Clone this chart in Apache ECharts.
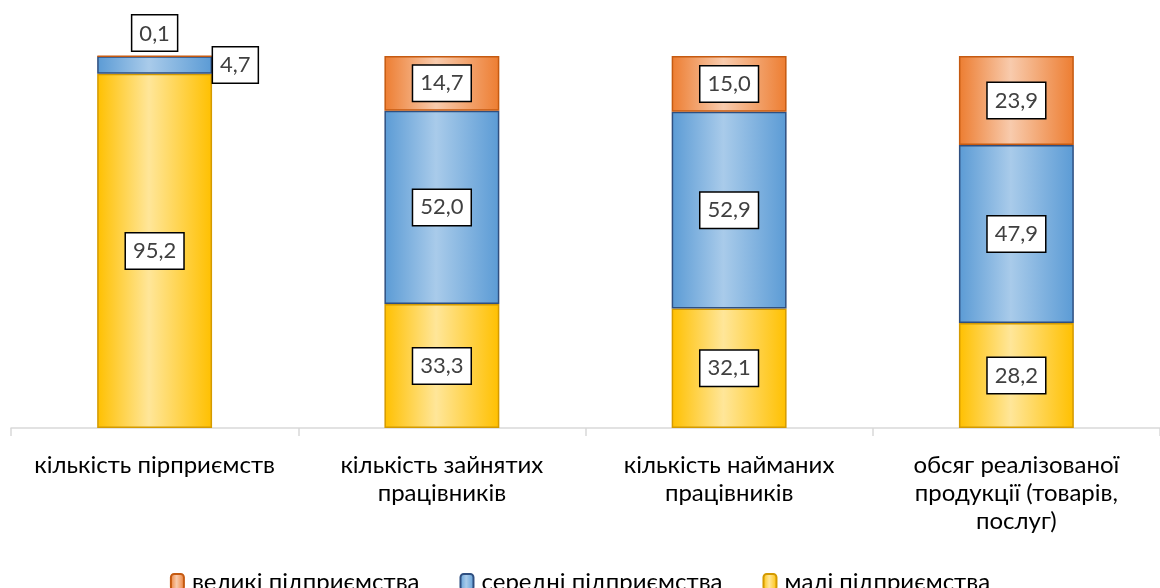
<!DOCTYPE html>
<html>
<head>
<meta charset="utf-8">
<script src="https://cdn.jsdelivr.net/npm/echarts@6/dist/echarts.min.js"></script>
<style>
  html, body { margin: 0; padding: 0; background: #fff; }
  #chart { width: 1160px; height: 588px; }
</style>
</head>
<body>
<div id="chart"></div>
<script>
// дані діаграми, %
const categories = [
  'кількість пірприємств',
  'кількість зайнятих\nпрацівників',
  'кількість найманих\nпрацівників',
  'обсяг реалізованої\nпродукції (товарів,\nпослуг)'
];
const seriesNames = ['великі підприємства', 'середні підприємства', 'малі підприємства'];
const smallValues = [95.2, 33.3, 32.1, 28.2];
const mediumValues = [4.7, 52.0, 52.9, 47.9];
const largeValues = [0.1, 14.7, 15.0, 23.9];

const FONT = 'Lato, "Open Sans", sans-serif';

function grad(edge, mid) {
  return new echarts.graphic.LinearGradient(0, 0, 1, 0, [
    { offset: 0, color: edge },
    { offset: 0.45, color: mid },
    { offset: 1, color: edge }
  ]);
}

const boxLabel = {
  show: true,
  position: 'inside',
  formatter: p => p.value.toFixed(1).replace('.', ','),
  color: '#404040',
  fontFamily: FONT,
  fontSize: 22,
  lineHeight: 26,
  backgroundColor: '#fff',
  borderColor: '#000',
  borderWidth: 1.5,
  padding: [5, 7, 4, 7]
};

const chart = echarts.init(document.getElementById('chart'));

chart.setOption({
  animation: false,
  grid: { left: 11, right: -2, top: 56, bottom: 160, containLabel: false },
  legend: {
    data: seriesNames,
    top: 565,
    left: 'center',
    itemGap: 40,
    itemWidth: 13,
    itemHeight: 16,
    textStyle: { fontFamily: FONT, fontSize: 24, color: '#000', padding: [0, 0, 0, 3] }
  },
  xAxis: {
    type: 'category',
    data: categories,
    axisLine: { lineStyle: { color: '#d9d9d9', width: 1.5 } },
    axisTick: { show: true, length: 8, lineStyle: { color: '#d9d9d9', width: 1.5 } },
    axisLabel: {
      fontFamily: FONT, fontSize: 24, color: '#000',
      lineHeight: 28, margin: 23, interval: 0
    }
  },
  yAxis: {
    type: 'value', min: 0, max: 100, show: false,
    splitLine: { show: false }
  },
  series: [
    {
      name: seriesNames[2],
      type: 'bar',
      stack: 'total',
      barWidth: '40%',
      data: smallValues,
      itemStyle: { color: grad('#ffc000', '#ffe699'), borderColor: '#d49a00', borderWidth: 1.5 },
      label: boxLabel
    },
    {
      name: seriesNames[1],
      type: 'bar',
      stack: 'total',
      data: mediumValues.map((v, i) => i === 0
        ? { value: v, label: { position: 'right', distance: 1 } }
        : v),
      itemStyle: { color: grad('#5b9bd5', '#a9cbea'), borderColor: '#2f4f80', borderWidth: 1.5 },
      label: boxLabel
    },
    {
      name: seriesNames[0],
      type: 'bar',
      stack: 'total',
      data: largeValues.map((v, i) => i === 0
        ? { value: v, label: { position: 'top', distance: 5 } }
        : v),
      itemStyle: { color: grad('#ed7d31', '#f8cbad'), borderColor: '#c55a11', borderWidth: 1.5 },
      label: boxLabel
    }
  ]
});
</script>
</body>
</html>
